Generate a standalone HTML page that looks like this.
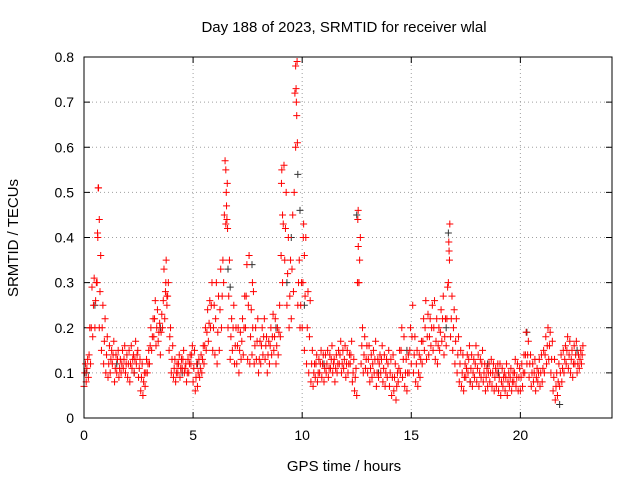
<!DOCTYPE html>
<html><head><meta charset="utf-8"><style>
body{margin:0;background:#fff;}
svg{font-family:"Liberation Sans",sans-serif;}
</style></head><body>
<svg id="chart" width="640" height="480">
<rect width="640" height="480" fill="#fff"/>
<text x="344" y="32" font-size="15" text-anchor="middle">Day 188 of 2023, SRMTID for receiver wlal</text>
<text x="344" y="471" font-size="15" text-anchor="middle">GPS time / hours</text>
<text x="18" y="238" font-size="15" text-anchor="middle" transform="rotate(-90 18 238)">SRMTID / TECUs</text>
<g id="grid"></g><g id="ticks"></g><g id="marks"></g>
<rect x="84" y="57" width="528" height="361" fill="none" stroke="#000" stroke-width="1"/>
</svg>
<script>
const xTicks=[0,5,10,15,20];
const yTicks=[0,0.1,0.2,0.3,0.4,0.5,0.6,0.7,0.8];
const yTickLabels=["0","0.1","0.2","0.3","0.4","0.5","0.6","0.7","0.8"];
const redStart=0, redStep=0.1;
const redLo=[.07,.08,.09,.12,.18,.2,.3,.2,.15,.12,
.1,.09,.1,.12,.08,.1,.09,.1,.11,.1,
.09,.08,.11,.1,.12,.09,.06,.05,.07,.1,
.12,.15,.18,.16,.17,.14,.2,.22,.25,.15,
.1,.09,.08,.1,.09,.11,.1,.08,.1,.12,
.08,.06,.07,.09,.1,.12,.15,.17,.2,.15,
.14,.12,.15,.2,.3,.43,.2,.13,.15,.12,
.12,.1,.13,.14,.2,.13,.12,.14,.12,.13,
.1,.12,.14,.13,.1,.12,.14,.15,.12,.14,
.18,.3,.35,.25,.2,.22,.28,.6,.25,.2,
.2,.15,.12,.1,.08,.07,.09,.08,.1,.09,
.08,.1,.09,.11,.1,.08,.1,.12,.1,.11,
.09,.1,.12,.08,.06,.05,.3,.12,.1,.11,
.1,.08,.09,.1,.07,.09,.1,.08,.07,.09,
.07,.05,.06,.04,.08,.1,.09,.07,.06,.1,
.12,.1,.08,.07,.09,.12,.15,.13,.14,.16,
.15,.13,.12,.15,.17,.14,.16,.3,.18,.15,
.12,.1,.08,.07,.06,.09,.1,.08,.07,.09,
.08,.07,.09,.08,.06,.07,.08,.07,.06,.07,
.06,.05,.07,.06,.05,.07,.06,.08,.07,.06,
.06,.07,.1,.12,.09,.07,.08,.06,.08,.07,
.08,.1,.12,.13,.1,.06,.04,.05,.07,.08,
.1,.12,.11,.1,.09,.12,.1,.11,.12];
const redMid=[.1,.11,.14,.2,.25,.26,.4,.28,.2,.17,
.14,.12,.13,.14,.11,.13,.11,.12,.13,.12,
.12,.12,.13,.13,.14,.11,.09,.08,.1,.12,
.16,.18,.22,.2,.19,.19,.26,.28,.27,.18,
.13,.11,.1,.12,.11,.13,.11,.1,.12,.14,
.11,.09,.1,.11,.13,.16,.19,.21,.25,.2,
.22,.19,.24,.27,.45,.47,.27,.18,.2,.16,
.16,.15,.17,.2,.27,.25,.18,.2,.16,.17,
.13,.16,.18,.16,.14,.16,.18,.18,.16,.19,
.36,.43,.42,.32,.27,.33,.5,.7,.3,.25,
.3,.27,.2,.18,.12,.1,.12,.1,.12,.12,
.11,.12,.11,.13,.12,.11,.12,.14,.12,.13,
.12,.12,.14,.1,.09,.3,.35,.16,.14,.13,
.13,.11,.12,.13,.1,.12,.13,.11,.1,.12,
.1,.09,.09,.07,.11,.15,.13,.1,.1,.15,
.18,.14,.12,.1,.13,.17,.2,.18,.18,.2,
.2,.17,.16,.19,.22,.18,.22,.37,.22,.2,
.17,.14,.12,.1,.09,.11,.13,.11,.1,.12,
.11,.1,.12,.1,.09,.1,.1,.1,.09,.1,
.09,.08,.09,.09,.08,.09,.08,.1,.09,.09,
.09,.1,.14,.14,.12,.1,.1,.09,.1,.1,
.11,.14,.16,.16,.13,.09,.07,.08,.1,.11,
.13,.15,.14,.13,.12,.14,.12,.13,.14];
const redHi=[.12,.13,.2,.29,.31,.3,.51,.36,.25,.22,
.18,.16,.15,.17,.14,.15,.13,.15,.16,.14,
.15,.16,.14,.17,.15,.13,.12,.1,.13,.15,
.2,.22,.26,.24,.21,.23,.33,.35,.3,.2,
.16,.13,.12,.14,.13,.15,.12,.13,.14,.16,
.15,.12,.13,.14,.16,.2,.24,.26,.3,.25,
.3,.27,.33,.35,.57,.52,.35,.22,.25,.2,
.2,.19,.22,.27,.34,.36,.24,.28,.2,.22,
.17,.2,.22,.18,.17,.2,.23,.22,.2,.25,
.55,.56,.5,.4,.35,.45,.72,.79,.35,.3,
.43,.4,.28,.26,.15,.12,.14,.13,.15,.14,
.14,.15,.14,.16,.13,.14,.15,.17,.15,.16,
.15,.14,.17,.13,.11,.46,.4,.2,.18,.16,
.16,.14,.15,.17,.13,.14,.16,.14,.13,.15,
.13,.14,.12,.1,.15,.2,.18,.13,.14,.2,
.25,.18,.15,.14,.17,.22,.26,.23,.22,.25,
.26,.22,.2,.24,.27,.22,.29,.43,.27,.24,
.22,.18,.15,.14,.12,.14,.16,.14,.13,.16,
.14,.13,.15,.12,.11,.12,.13,.12,.11,.12,
.12,.11,.1,.12,.1,.11,.1,.13,.12,.11,
.12,.14,.19,.17,.14,.12,.13,.11,.13,.14,
.15,.18,.2,.19,.17,.13,.1,.12,.14,.15,
.16,.18,.17,.15,.16,.17,.14,.15,.16];
const redSpikeT=[0.65,0.7,0.62,6.5,6.52,6.55,6.58,9.72,9.75,9.78,9.7,9.05,9.1,10.05,10.1,12.55,12.57,12.6,16.72,16.75,3.75,3.8,7.72];
const redSpikeV=[0.51,0.44,0.41,0.55,0.5,0.44,0.42,0.73,0.67,0.61,0.78,0.52,0.45,0.4,0.36,0.44,0.38,0.3,0.39,0.35,0.3,0.27,0.3];
const blackT=[0.1,0.5,1.5,2.3,3.5,4.5,5.2,6.6,6.7,7.7,8.8,9.3,9.5,9.8,9.9,10.1,11,12.5,13.5,14.8,16.6,16.7,17.7,18.5,19,20.3,21.8,22.6];
const blackV=[0.1,0.25,0.12,0.1,0.2,0.1,0.12,0.33,0.29,0.34,0.2,0.3,0.4,0.54,0.46,0.25,0.12,0.45,0.1,0.15,0.2,0.41,0.08,0.12,0.1,0.19,0.03,0.15];

const X0=84,X1=612,Y0=418,Y1=57,XMAX=24.2,YMAX=0.8;
const xs=t=>X0+t/XMAX*(X1-X0);
const ys=v=>Y0-v/YMAX*(Y0-Y1);
const NS="http://www.w3.org/2000/svg";
function mk(tag,attrs,parent){const e=document.createElementNS(NS,tag);for(const k in attrs)e.setAttribute(k,attrs[k]);parent.appendChild(e);return e;}
const grid=document.getElementById('grid'),ticks=document.getElementById('ticks'),marks=document.getElementById('marks');
xTicks.forEach(t=>{const x=xs(t);
 if(t>0){const g=mk('line',{x1:x,x2:x,y1:Y0,y2:Y1,stroke:'#a0a0a0','stroke-dasharray':'1,3'},grid);
 
 }
 mk('line',{x1:x,x2:x,y1:Y0,y2:Y0-6,stroke:'#000'},ticks);mk('line',{x1:x,x2:x,y1:Y1,y2:Y1+6,stroke:'#000'},ticks);
 const l=mk('text',{x:x,y:Y0+22,'font-size':14,'text-anchor':'middle'},ticks);l.textContent=t;
 
 });
yTicks.forEach((v,i)=>{const y=ys(v);
 if(v>0&&v<YMAX){const g=mk('line',{x1:X0,x2:X1,y1:y,y2:y,stroke:'#a0a0a0','stroke-dasharray':'1,3'},grid);
 
 }
 mk('line',{x1:X0,x2:X0+6,y1:y,y2:y,stroke:'#000'},ticks);mk('line',{x1:X1,x2:X1-6,y1:y,y2:y,stroke:'#000'},ticks);
 const l=mk('text',{x:X0-10,y:y+5,'font-size':14,'text-anchor':'end'},ticks);l.textContent=yTickLabels[i];
 
 });
function plus(t,v,c,name){const x=xs(t),y=ys(v);
 const p=mk('path',{d:`M${x-3.5},${y}h7M${x},${y-3.5}v7`,stroke:c,'stroke-width':1,fill:'none'},marks);
 
 }
blackT.forEach((t,i)=>plus(t,blackV[i],'#333','black-point'));
redLo.forEach((v,i)=>{const t=redStart+i*redStep;plus(t,v,'#f00','red-point');plus(t+0.033,redMid[i],'#f00','red-point');plus(t+0.066,redHi[i],'#f00','red-point');});
redSpikeT.forEach((t,i)=>plus(t,redSpikeV[i],'#f00','red-point'));
</script>
</body></html>
